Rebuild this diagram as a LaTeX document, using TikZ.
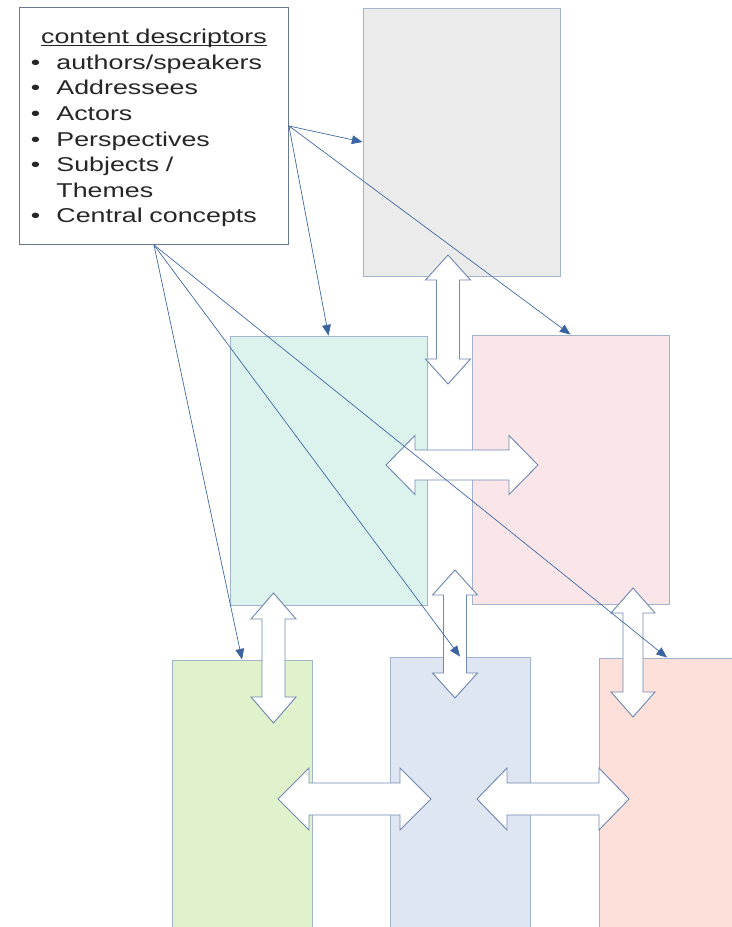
\documentclass[tikz,border=0pt]{standalone}
\usepackage{fontspec}
\newfontfamily\descfont[FakeStretch=1.34]{Liberation Sans}
\usetikzlibrary{arrows.meta,fit}

\definecolor{linkblue}{HTML}{3A64A0}
\definecolor{paneline}{HTML}{A3B3CC}
\definecolor{dblline}{HTML}{7088B0}
\definecolor{descline}{HTML}{6A7A92}
\definecolor{grayfill}{HTML}{EBEBEB}
\definecolor{tealfill}{HTML}{DCF2EC}
\definecolor{pinkfill}{HTML}{FAE6E9}
\definecolor{greenfill}{HTML}{E0F2CC}
\definecolor{bluefill}{HTML}{DDE6F2}
\definecolor{salmonfill}{HTML}{FDE0D9}

% one bulleted line of the descriptor box
\newcommand{\descitem}[1]{\par\hangindent=19.75pt\hangafter=1\noindent
	\makebox[19.75pt][l]{\hspace{0.5pt}\textbullet}#1}

\begin{document}
\begin{tikzpicture}[x=0.75pt,y=-0.75pt,
	pane/.style={draw=paneline,line width=0.7pt,inner sep=0pt},
	descbox/.style={draw=descline,fill=white,line width=0.7pt,inner xsep=8pt,
		text width=185.75pt,minimum height=177.75pt,text=black!85,
		font=\descfont\fontsize{15}{19.2}\selectfont},
	link/.style={draw=linkblue,line width=0.5pt,-{Triangle[length=8pt,width=6.5pt]}},
	dblarrow/.style={draw=dblline,fill=white,line width=0.7pt,line join=miter},
	pics/dbl/.style n args={4}{code={%
		\draw[dblarrow] (-#1,0) -- (-#1+#2,#3) -- (-#1+#2,#4) -- (#1-#2,#4)
		-- (#1-#2,#3) -- (#1,0) -- (#1-#2,-#3) -- (#1-#2,-#4)
		-- (-#1+#2,-#4) -- (-#1+#2,-#3) -- cycle;}}]
	\useasboundingbox (0,0) rectangle (731,927);
	%\draw[help lines] (0,0) grid[step=50] (731,927);

	% panes
	\node[pane,fill=grayfill,fit={(363,8) (560,276)}] (gray) {};
	\node[pane,fill=tealfill,fit={(230,336) (427,605)}] (teal) {};
	\node[pane,fill=pinkfill,fit={(472,335) (669,604)}] (pink) {};
	\node[pane,fill=greenfill,fit={(172,660) (312,932)}] (green) {};
	\node[pane,fill=bluefill,fit={(390,657) (530,932)}] (blue) {};
	\node[pane,fill=salmonfill,fit={(599,658) (735,932)}] (salmon) {};

	% content descriptors
	\node[descbox,anchor=north west] (desc) at (19,7) {%
		{\centering\rule{0pt}{14pt}\underline{\smash{content descriptors}}\par}
		\raggedright
		\descitem{authors/speakers}
		\descitem{Addressees}
		\descitem{Actors}
		\descitem{Perspectives}
		\descitem{Subjects /\newline Themes}
		\descitem{Central concepts}};

	% double arrows
	\pic[rotate=90] at (448,319.5) {dbl={64.5}{25}{22.5}{11.5}};
	\pic at (462,465) {dbl={76}{29}{29.5}{15}};
	\pic[rotate=90] at (273.5,658) {dbl={65}{26}{22.5}{11.5}};
	\pic[rotate=90] at (455,634) {dbl={64}{25}{22.5}{11.5}};
	\pic[rotate=90] at (633,652.5) {dbl={64.5}{25}{22}{10}};
	\pic at (354.5,799) {dbl={76.5}{31}{31}{16}};
	\pic at (553,799) {dbl={76}{30}{31}{16}};

	% links
	\draw[link] (desc.east) -- (gray.west);
	\draw[link] (desc.east) -- (teal.north);
	\draw[link] (desc.east) -- (pink.north);
	\draw[link] (desc.south) -- (green.north);
	\draw[link] (desc.south) -- (blue.north);
	\draw[link] (desc.south) -- (salmon.north);
\end{tikzpicture}
\end{document}
